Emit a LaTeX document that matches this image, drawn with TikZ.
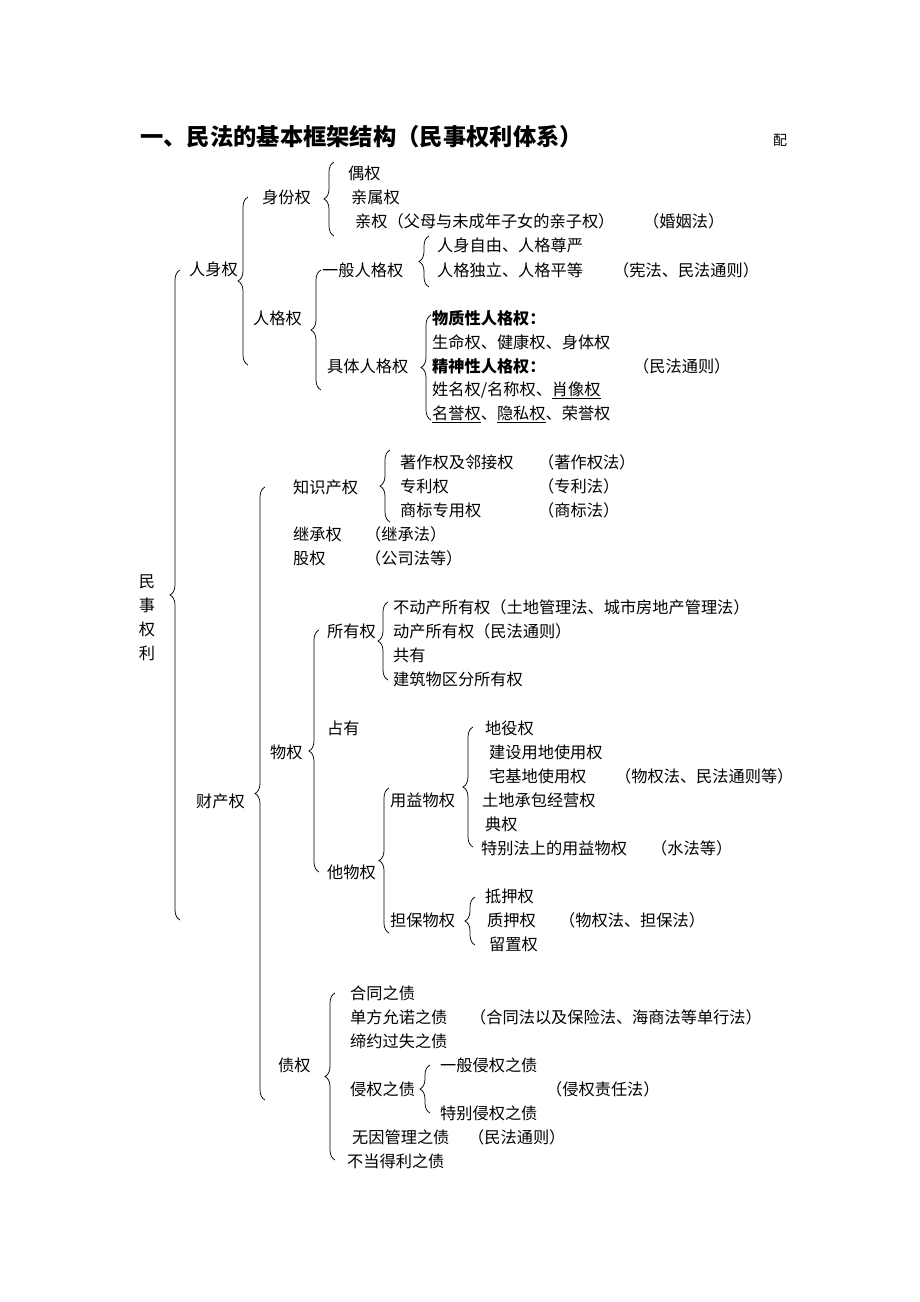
\documentclass[tikz,border=0pt]{standalone}
\usepackage{fontspec}
\setmainfont[Kerning=Off]{Noto Sans CJK SC}
\usetikzlibrary{decorations.pathreplacing}
\tikzset{
  txt/.style = {anchor=west, inner sep=0pt, font=\fontsize{16.2}{18}\selectfont},
  lbrace/.style = {decorate, decoration={brace, amplitude=10pt}, line width=0.75pt},
}
\begin{document}
\begin{tikzpicture}[x=1pt, y=-1pt]
  \useasboundingbox (0,0) rectangle (920,1302);
  % title
  \node[anchor=west, inner sep=0pt, font=\fontsize{23.3}{26}\selectfont\bfseries] (title) at (140,137) {一、民法的基本框架结构（民事权利体系）};
  \node[anchor=west, inner sep=0pt, font=\fontsize{14}{16}\selectfont] (pei) at (773,140) {配};
  % root
  \node[inner sep=0pt, align=center, font=\fontsize{16.2}{24}\selectfont] (minshi) at (147,618) {民\\事\\权\\利};
  \draw[lbrace] (180,920) -- (180,270);
  % renshenquan
  \node[txt] (renshen) at (189,269) {人身权};
  \draw[lbrace] (248,365) -- (248,197);
  \node[txt] (shenfen) at (262,197) {身份权};
  \draw[lbrace] (334,236) -- (334,162);
  \node[txt] (ouquan) at (348,173) {偶权};
  \node[txt] (qinshu) at (351,197) {亲属权};
  \node[txt] (qinquan) at (355,221) {亲权（父母与未成年子女的亲子权）};
  \node[txt] (hunyin) at (643,221) {（婚姻法）};
  \node[txt] (renge) at (253,318) {人格权};
  \draw[lbrace] (321,390) -- (321,270);
  \node[txt] (yiban) at (322,270) {一般人格权};
  \draw[lbrace] (429,287) -- (429,236);
  \node[txt] (ziyou) at (437,245) {人身自由、人格尊严};
  \node[txt] (duli) at (437,270) {人格独立、人格平等};
  \node[txt] (xianfa) at (613,270) {（宪法、民法通则）};
  \node[txt] (juti) at (327,366) {具体人格权};
  \draw[lbrace] (431,420) -- (431,315);
  \node[txt] (wuzhi) at (432,318) {\bfseries 物质性人格权：};
  \node[txt] (shengming) at (432,342) {生命权、健康权、身体权};
  \node[txt] (jingshen) at (432,366) {\bfseries 精神性人格权：};
  \node[txt] (mftza) at (633,366) {（民法通则）};
  \node[txt] (xingming) at (432,390) {姓名权/名称权、\underline{肖像权}};
  \node[txt] (mingyu) at (432,414) {\underline{名誉权}、\underline{隐私权}、荣誉权};
  % caichanquan
  \node[txt] (caichan) at (196,801) {财产权};
  \draw[lbrace] (265,1100) -- (265,487);
  \node[txt] (zhishi) at (293,487) {知识产权};
  \draw[lbrace] (390,522) -- (390,450);
  \node[txt] (zhuzuo) at (400,462) {著作权及邻接权};
  \node[txt] (zzf) at (538,462) {（著作权法）};
  \node[txt] (zhuanli) at (400,486) {专利权};
  \node[txt] (zlf) at (538,486) {（专利法）};
  \node[txt] (shangbiao) at (400,510) {商标专用权};
  \node[txt] (sbf) at (538,510) {（商标法）};
  \node[txt] (jicheng) at (293,534) {继承权};
  \node[txt] (jcf) at (365,534) {（继承法）};
  \node[txt] (guquan) at (293,558) {股权};
  \node[txt] (gsf) at (365,558) {（公司法等）};
  % wuquan
  \node[txt] (wuquan) at (270,752) {物权};
  \draw[lbrace] (319,872) -- (319,630);
  \node[txt] (suoyou) at (327,631) {所有权};
  \draw[lbrace] (388,680) -- (388,602);
  \node[txt] (budong) at (393,607) {不动产所有权（土地管理法、城市房地产管理法）};
  \node[txt] (dongchan) at (393,631) {动产所有权（民法通则）};
  \node[txt] (gongyou) at (393,655) {共有};
  \node[txt] (qufen) at (393,679) {建筑物区分所有权};
  \node[txt] (zhanyou) at (327,728) {占有};
  \node[txt] (tawu) at (327,872) {他物权};
  \draw[lbrace] (389,933) -- (389,788);
  \node[txt] (yongyi) at (390,800) {用益物权};
  \draw[lbrace] (473,847) -- (473,727);
  \node[txt] (diyi) at (485,728) {地役权};
  \node[txt] (jianshe) at (489,752) {建设用地使用权};
  \node[txt] (zhaiji) at (489,776) {宅基地使用权};
  \node[txt] (wqf) at (615,776) {（物权法、民法通则等）};
  \node[txt] (tudi) at (482,800) {土地承包经营权};
  \node[txt] (dianquan) at (485,824) {典权};
  \node[txt] (tebie) at (481,848) {特别法上的用益物权};
  \node[txt] (sfd) at (651,848) {（水法等）};
  \node[txt] (danbao) at (390,920) {担保物权};
  \draw[lbrace] (475,945) -- (475,897);
  \node[txt] (diya) at (485,896) {抵押权};
  \node[txt] (zhiya) at (487,920) {质押权};
  \node[txt] (dbf) at (559,920) {（物权法、担保法）};
  \node[txt] (liuzhi) at (489,944) {留置权};
  % zhaiquan
  \node[txt] (zhaiquan) at (278,1065) {债权};
  \draw[lbrace] (335,1160) -- (335,993);
  \node[txt] (hetong) at (350,993) {合同之债};
  \node[txt] (danfang) at (350,1017) {单方允诺之债};
  \node[txt] (htf) at (470,1017) {（合同法以及保险法、海商法等单行法）};
  \node[txt] (diyue) at (350,1041) {缔约过失之债};
  \node[txt] (qinquanzz) at (350,1089) {侵权之债};
  \draw[lbrace] (430,1113) -- (430,1065);
  \node[txt] (yibanqq) at (440,1065) {一般侵权之债};
  \node[txt] (tebieqq) at (440,1113) {特别侵权之债};
  \node[txt] (qqzrf) at (546,1089) {（侵权责任法）};
  \node[txt] (wuyin) at (352,1137) {无因管理之债};
  \node[txt] (mftzb) at (468,1137) {（民法通则）};
  \node[txt] (budang) at (347,1161) {不当得利之债};
\end{tikzpicture}
\end{document}
